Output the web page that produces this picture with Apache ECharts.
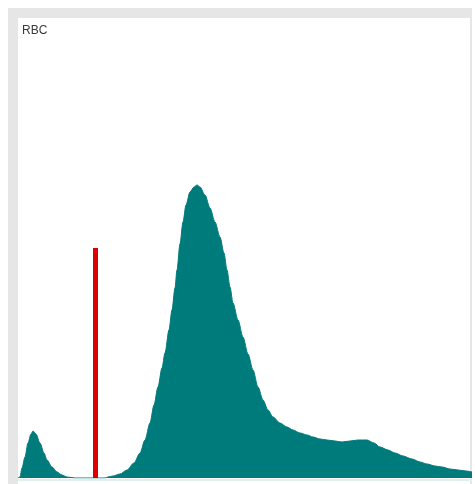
<!DOCTYPE html>
<html>
<head>
<meta charset="utf-8">
<script src="https://cdn.jsdelivr.net/npm/echarts@6/dist/echarts.min.js"></script>
<style>
html,body{margin:0;padding:0;background:#fff;}
#c{width:475px;height:484px;}
</style>
</head>
<body>
<div id="c"></div>
<script>
// channel positions and counts of the RBC histogram
const channels = [0,2,4,7,10,13,15,18,22,26,29,34,39,44,49,57,70,87,90,95,102,109,116,122,127,132,136,140,144,147,151,154,157,159,162,165,168,172,176,179,182,187,192,197,202,206,209,212,215,220,225,230,235,240,245,250,255,262,269,275,282,289,295,302,309,317,324,332,340,349,356,362,370,377,385,394,402,409,417,424,432,440,448,454];
const counts   = [0,1,10,21,35,44,47,44,35,25,18,11,6,3,1,0,0,0,1,2,4,8,15,25,38,55,73,91,110,125,148,168,190,208,234,256,273,286,291,293,291,283,270,256,241,225,208,191,175,158,141,124,108,91,78,68,61,55,51,48,45,43,41,39,38,37,36,37,38,38,35,31,28,25,22,19,16,14,12,11,9,8,7,6];
const thresholdChannel = 77.5;
const thresholdHeight = 230;
const title = "RBC";

const chart = echarts.init(document.getElementById('c'));
chart.setOption({
  animation:false,
  graphic:[
    {type:'rect', shape:{x:8,y:8,width:464,height:476}, style:{fill:'#e6e6e6'}, z:-10},
    {type:'rect', shape:{x:18,y:18,width:452,height:466}, style:{fill:'#ffffff'}, z:-9},
    {type:'rect', shape:{x:18,y:479,width:454,height:2}, style:{fill:'#dff0ef'}, z:-8},
    {type:'text', left:22, top:25, style:{text:title, fill:'#3a3a3a', font:'12px "Liberation Sans", Arial, sans-serif'}, z:10}
  ],
  grid:{left:18, right:3, top:18, bottom:6},
  xAxis:{type:'value', min:0, max:454, show:false},
  yAxis:{type:'value', min:0, max:460, show:false},
  series:[
    {type:'line', data:channels.map((c,i)=>[c,counts[i]]), showSymbol:false, smooth:0.3, smoothMonotone:'x',
     lineStyle:{color:'#007b7b', width:1}, areaStyle:{color:'#007b7b', opacity:1}, itemStyle:{color:'#007b7b'}},
    {type:'line', data:[[thresholdChannel,0],[thresholdChannel,thresholdHeight]], showSymbol:false,
     lineStyle:{color:'#dd0000', width:5, cap:'butt'}, z:5}
  ]
});
</script>
</body>
</html>
